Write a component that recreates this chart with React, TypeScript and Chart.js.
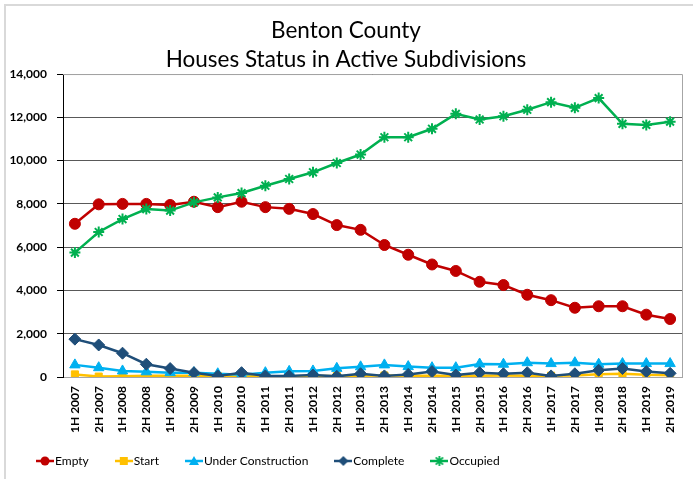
import React, { useEffect, useRef } from "react";
import { Chart, registerables } from "chart.js";

Chart.register(...registerables);

const categories = [
  "1H 2007", "2H 2007", "1H 2008", "2H 2008", "1H 2009", "2H 2009", "1H 2010", "2H 2010",
  "1H 2011", "2H 2011", "1H 2012", "2H 2012", "1H 2013", "2H 2013", "1H 2014", "2H 2014",
  "1H 2015", "2H 2015", "1H 2016", "2H 2016", "1H 2017", "2H 2017", "1H 2018", "2H 2018",
  "1H 2019", "2H 2019",
];

const emptyValues = [
  7080, 7980, 8000, 8000, 7950, 8100, 7850, 8100, 7850, 7770, 7530, 7020, 6800,
  6100, 5650, 5200, 4900, 4400, 4250, 3800, 3550, 3200, 3270, 3270, 2880, 2680,
];
const startValues = [
  120, 20, 30, 60, 60, 60, 50, 60, 40, 40, 50, 50, 60,
  70, 60, 60, 60, 60, 70, 60, 60, 70, 130, 150, 100, 80,
];
const underConstructionValues = [
  560, 430, 280, 240, 200, 200, 150, 100, 200, 260, 280, 400, 470,
  560, 480, 430, 430, 600, 590, 660, 620, 660, 590, 620, 620, 620,
];
const completeValues = [
  1750, 1480, 1100, 590, 390, 200, 50, 200, 50, 50, 90, 30, 150,
  50, 120, 250, 90, 200, 150, 200, 50, 150, 310, 390, 250, 170,
];
const occupiedValues = [
  5750, 6700, 7300, 7760, 7690, 8070, 8300, 8500, 8840, 9150, 9460, 9890, 10280,
  11080, 11080, 11470, 12160, 11900, 12050, 12350, 12700, 12440, 12890, 11700, 11650, 11800,
];

const titleLines = ["Benton County", "Houses Status in Active Subdivisions"];
const yTicks = [0, 2000, 4000, 6000, 8000, 10000, 12000, 14000];

const FONT = "Lato, 'Liberation Sans', sans-serif";

function legendIcon(color: string, style: string, size: number): HTMLCanvasElement {
  const c = document.createElement("canvas");
  c.width = 18;
  c.height = 14;
  const ctx = c.getContext("2d")!;
  ctx.strokeStyle = color;
  ctx.fillStyle = color;
  ctx.lineWidth = 2.5;
  ctx.beginPath();
  ctx.moveTo(0, 7);
  ctx.lineTo(18, 7);
  ctx.stroke();
  const cx = 9, cy = 7;
  ctx.beginPath();
  if (style === "circle") {
    ctx.arc(cx, cy, size, 0, Math.PI * 2);
    ctx.fill();
  } else if (style === "rect") {
    ctx.fillRect(cx - size, cy - size, size * 2, size * 2);
  } else if (style === "triangle") {
    ctx.moveTo(cx, cy - size - 1);
    ctx.lineTo(cx + size + 1, cy + size);
    ctx.lineTo(cx - size - 1, cy + size);
    ctx.closePath();
    ctx.fill();
  } else if (style === "rectRot") {
    ctx.moveTo(cx, cy - size - 1);
    ctx.lineTo(cx + size + 1, cy);
    ctx.lineTo(cx, cy + size + 1);
    ctx.lineTo(cx - size - 1, cy);
    ctx.closePath();
    ctx.fill();
  } else if (style === "star") {
    ctx.lineWidth = 1.8;
    const r = size + 1;
    ctx.moveTo(cx - r, cy);
    ctx.lineTo(cx + r, cy);
    ctx.moveTo(cx, cy - r);
    ctx.lineTo(cx, cy + r);
    const d = r * 0.72;
    ctx.moveTo(cx - d, cy - d);
    ctx.lineTo(cx + d, cy + d);
    ctx.moveTo(cx - d, cy + d);
    ctx.lineTo(cx + d, cy - d);
    ctx.stroke();
  }
  return c;
}

const frame = {
  id: "frame",
  afterLayout(chart: any) {
    const x = chart.scales.x;
    if (x) x.bottom = x.top + 80;
  },
  beforeDraw(chart: any) {
    const ctx = chart.ctx;
    ctx.save();
    ctx.fillStyle = "#ffffff";
    ctx.fillRect(0, 0, chart.width, chart.height);
    ctx.strokeStyle = "#d9d9d9";
    ctx.lineWidth = 2;
    ctx.strokeRect(5, 5, chart.width + 20, chart.height + 20);
    ctx.restore();
  },
  afterDatasetsDraw(chart: any) {
    const { ctx, chartArea } = chart;
    ctx.save();
    ctx.strokeStyle = "#a6a6a6";
    ctx.lineWidth = 1;
    ctx.beginPath();
    ctx.moveTo(chartArea.left, chartArea.top + 0.5);
    ctx.lineTo(chartArea.right + 0.5, chartArea.top + 0.5);
    ctx.lineTo(chartArea.right + 0.5, chartArea.bottom + 0.5);
    ctx.stroke();
    ctx.restore();
  },
};

export default function App() {
  const ref = useRef<HTMLCanvasElement>(null);

  useEffect(() => {
    document.body.style.margin = "0";
    const icons = {
      Empty: legendIcon("#C00000", "circle", 4.5),
      Start: legendIcon("#FFC000", "rect", 4),
      "Under Construction": legendIcon("#00B0F0", "triangle", 4),
      Complete: legendIcon("#1F4E79", "rectRot", 4),
      Occupied: legendIcon("#00B050", "star", 4),
    } as Record<string, HTMLCanvasElement>;

    const mk = (label: string, data: number[], color: string, pointStyle: string, radius: number, order: number) => ({
      label,
      data,
      borderColor: color,
      backgroundColor: color,
      pointBackgroundColor: color,
      pointBorderColor: color,
      pointStyle,
      pointRadius: radius,
      pointBorderWidth: pointStyle === "star" ? 2 : 1,
      borderWidth: 2.5,
      tension: 0,
      order,
    });

    const chart = new Chart(ref.current!, {
      type: "line",
      data: {
        labels: categories,
        datasets: [
          mk("Empty", emptyValues, "#C00000", "circle", 5.5, 5),
          mk("Start", startValues, "#FFC000", "rect", 5, 4),
          mk("Under Construction", underConstructionValues, "#00B0F0", "triangle", 6, 3),
          mk("Complete", completeValues, "#1F4E79", "rectRot", 6, 2),
          mk("Occupied", occupiedValues, "#00B050", "star", 5.5, 1),
        ] as any,
      },
      options: {
        animation: false,
        responsive: false,
        layout: { padding: { left: 10, right: 11, top: 0, bottom: 2 } },
        plugins: {
          tooltip: { enabled: false },
          title: {
            display: true,
            text: titleLines,
            color: "#000000",
            font: { family: FONT, size: 22.5, weight: "normal" as any, lineHeight: 1.29 },
            padding: { top: 16, bottom: 0 },
          },
          legend: {
            display: true,
            position: "bottom",
            align: "start",
            labels: {
              color: "#000000",
              font: { family: FONT, size: 12 },
              usePointStyle: true,
              pointStyleWidth: 8,
              padding: 31,
              sort: (a: any, b: any) => a.datasetIndex - b.datasetIndex,
              generateLabels: (ch: any) =>
                ch.data.datasets.map((ds: any, i: number) => ({
                  text: ds.label,
                  datasetIndex: i,
                  pointStyle: icons[ds.label],
                  fillStyle: ds.borderColor,
                  strokeStyle: ds.borderColor,
                  lineWidth: 0,
                  hidden: false,
                  fontColor: "#000000",
                })),
            },
          },
        },
        scales: {
          x: {
            offset: true,
            grid: { display: false, drawTicks: true, tickLength: 6 },
            border: { display: true, color: "#a6a6a6", width: 1 },
            ticks: {
              color: "#000000",
              font: { family: FONT, size: 12, weight: "bold" as any },
              minRotation: 90,
              maxRotation: 90,
              autoSkip: false,
              padding: 3,
            },
            afterFit: (s: any) => {
              s.height = 47;
            },
          },
          y: {
            min: 0,
            max: 14000,
            afterBuildTicks: (s: any) => {
              s.ticks = yTicks.map((v) => ({ value: v }));
            },
            grid: {
              color: (c: any) => (c.tick && c.tick.value === 0 ? "rgba(0,0,0,0)" : "#595959"),
              lineWidth: 1,
              tickLength: 6,
              tickColor: "#000000",
              drawTicks: true,
            },
            border: { display: true, color: "#000000", width: 1 },
            ticks: {
              color: "#000000",
              font: { family: FONT, size: 12, weight: "bold" as any },
              padding: 10,
              callback: (v: any) => Number(v).toLocaleString("en-US"),
            },
            afterFit: (s: any) => {
              s.width = 53;
            },
          },
        },
      },
      plugins: [frame],
    });
    return () => chart.destroy();
  }, []);

  return (
    <div style={{ width: 693, height: 479 }}>
      <canvas ref={ref} width={693} height={479} style={{ display: "block" }} />
    </div>
  );
}
